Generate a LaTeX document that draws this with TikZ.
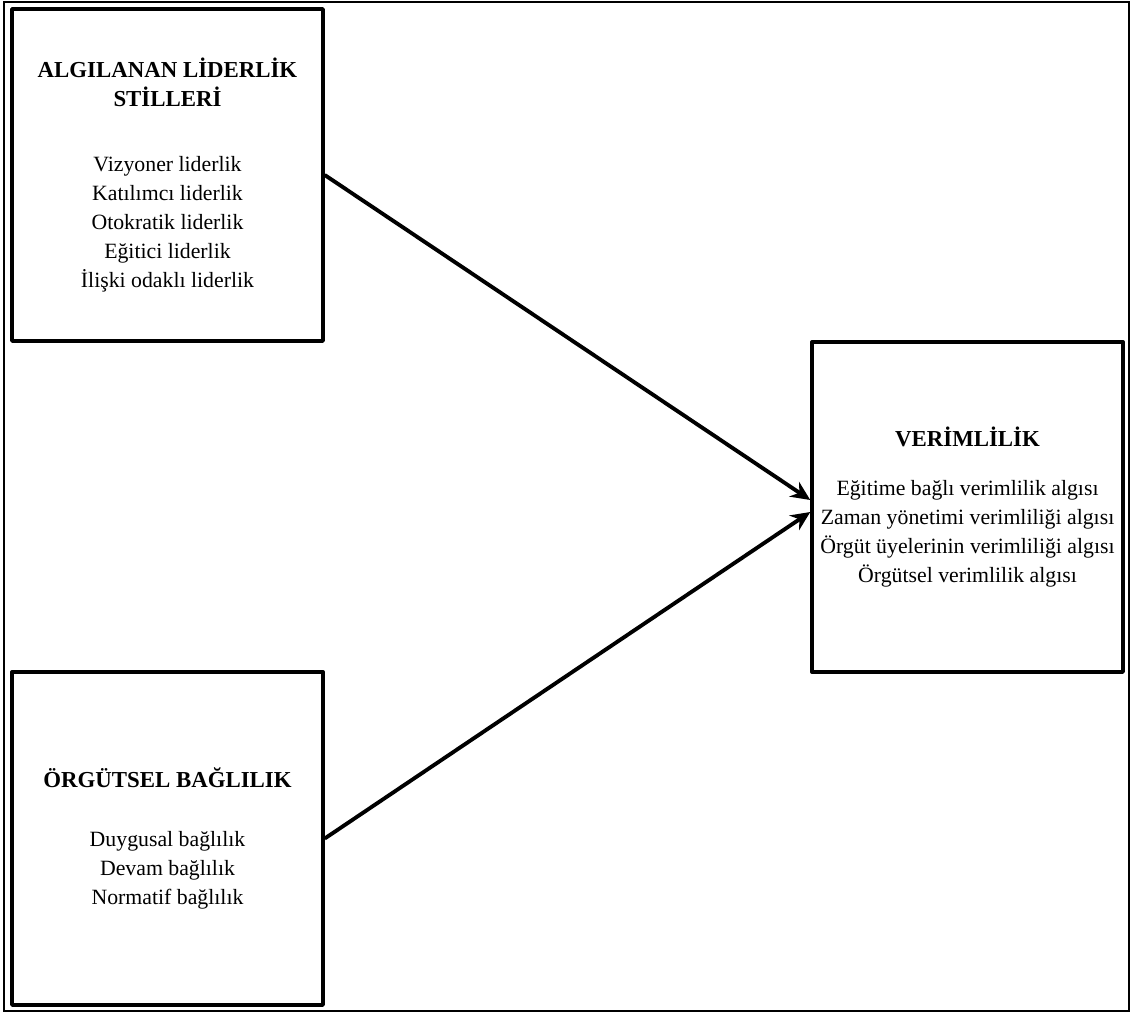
\documentclass[tikz,border=0pt]{standalone}
\usepackage{fontspec}
\setmainfont{Liberation Serif}
\usetikzlibrary{arrows.meta}
\tikzset{>={Stealth[length=11pt,width=10pt]}}
\tikzset{factor/.style={draw, line width=2pt, line join=round, minimum width=6.22cm,
  minimum height=6.64cm, inner sep=0pt, align=center, font=\fontsize{12.4}{16.5}\selectfont}}
\tikzset{link/.style={->, line width=2.2pt}}
\newcommand*{\ttl}[1]{{\fontsize{13}{16.5}\selectfont\bfseries #1}}

\begin{document}
\begin{tikzpicture}[x=0.02cm, y=-0.02cm]
    \useasboundingbox(0, 0)rectangle(1131, 1014);
    \draw[line width=0.6pt](4, 2)rectangle(1129, 1011);
    \node[factor](lider)at(167.5, 175){\ttl{ALGILANAN LİDERLİK}\\\ttl{STİLLERİ}\\[20.5pt]
        Vizyoner liderlik\\Katılımcı liderlik\\Otokratik liderlik\\Eğitici liderlik\\İlişki odaklı liderlik};
    \node[factor, minimum height=6.66cm](bag)at(167.5, 838.5){\ttl{ÖRGÜTSEL BAĞLILIK}\\[17.5pt]
        Duygusal bağlılık\\Devam bağlılık\\Normatif bağlılık};
    \node[factor, minimum height=6.6cm](verim)at(967.5, 507){\ttl{VERİMLİLİK}\\[11pt]
        Eğitime bağlı verimlilik algısı\\Zaman yönetimi verimliliği algısı\\Örgüt üyelerinin verimliliği algısı\\Örgütsel verimlilik algısı};
    \draw[link](lider.east)--([yshift=0.14cm]verim.west);
    \draw[link](bag.east)--([yshift=-0.1cm]verim.west);
\end{tikzpicture}
\end{document}
